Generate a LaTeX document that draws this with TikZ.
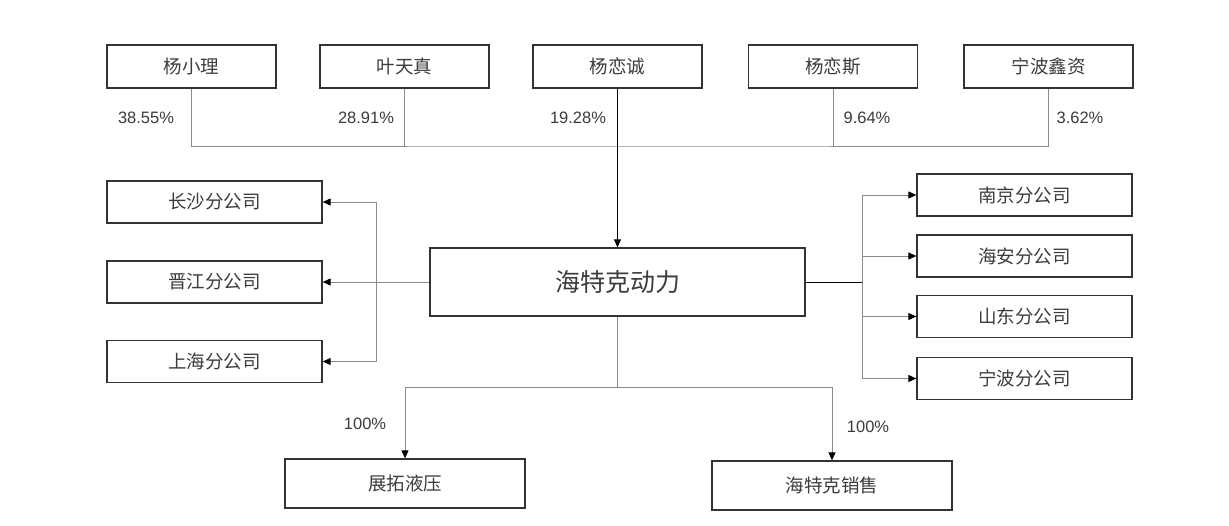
\documentclass[tikz,border=0pt]{standalone}
\usepackage{fontspec}
\setmainfont{Liberation Sans}
\newfontfamily\cjk{Noto Sans CJK SC}
\usetikzlibrary{arrows.meta}
\definecolor{boxc}{HTML}{333333}
\definecolor{txtc}{HTML}{3C3C3C}
\definecolor{linec}{HTML}{8A8A8A}
\begin{document}
\begin{tikzpicture}[x=1pt,y=-1pt,
  box/.style={draw=boxc, line width=1.3pt, fill=white, inner sep=0pt, text=txtc, font=\cjk\fontsize{18.5}{18.5}\selectfont},
  topbox/.style={box, minimum width=169pt, minimum height=43pt},
  subbox/.style={box, minimum width=215pt, minimum height=42pt},
  botbox/.style={box, minimum width=240pt, minimum height=49pt},
  pct/.style={inner sep=0pt, text=txtc, font=\fontsize{16.5}{16.5}\selectfont},
  conn/.style={draw=linec, line width=0.9pt},
  arr/.style={conn, -{Triangle[length=8pt,width=7pt,color=black]}}]
\useasboundingbox (0,0) rectangle (1229,525);
\fill[white] (0,0) rectangle (1229,525);
% shareholders
\node[topbox] (s1) at (191.5,66.5) {杨小理};
\node[topbox] (s2) at (404.5,66.5) {叶天真};
\node[topbox] (s3) at (617.5,66.5) {杨恋诚};
\node[topbox] (s4) at (833,66.5) {杨恋斯};
\node[topbox] (s5) at (1048.5,66.5) {宁波鑫资};
% centre
\node[box, minimum width=375pt, minimum height=68pt, font=\cjk\fontsize{25}{25}\selectfont] (c) at (617.5,282) {海特克动力};
% left branches
\node[subbox] (l1) at (214.5,202) {长沙分公司};
\node[subbox] (l2) at (214.5,282) {晋江分公司};
\node[subbox] (l3) at (214.5,361.5) {上海分公司};
% right branches
\node[subbox] (r1) at (1024.5,195) {南京分公司};
\node[subbox] (r2) at (1024.5,256) {海安分公司};
\node[subbox] (r3) at (1024.5,316.5) {山东分公司};
\node[subbox] (r4) at (1024.5,378.5) {宁波分公司};
% subsidiaries
\node[botbox] (b1) at (405,483.5) {展拓液压};
\node[botbox] (b2) at (832,485.5) {海特克销售};
% percentages
\node[pct] (p1) at (146,118) {38.55\%};
\node[pct] (p2) at (366,118) {28.91\%};
\node[pct] (p3) at (578,118) {19.28\%};
\node[pct] (p4) at (867,118) {9.64\%};
\node[pct] (p5) at (1080,118) {3.62\%};
\node[pct] (p6) at (365,424) {100\%};
\node[pct] (p7) at (868,427) {100\%};
% junctions
\coordinate (jt) at (617.5,146);
\coordinate (jl) at (376,282);
\coordinate (jr) at (862,282);
\coordinate (jb) at (617.5,387);
% top connectors
\draw[conn] (s1.south) |- (jt) -| (s5.south);
\draw[conn] (s2.south) -- (s2.south |- jt);
\draw[conn] (s4.south) -- (s4.south |- jt);
\draw[conn, draw=black] (s3.south) -- (jt);
\draw[arr, draw=black] (jt) -- (c.north);
% left
\draw[arr] (c.west) -- (l2.east);
\draw[arr] (jl) |- (l1.east);
\draw[arr] (jl) |- (l3.east);
% right
\draw[conn, draw=black] (c.east) -- (jr);
\draw[arr] (jr) |- (r1.west);
\draw[arr] (jr) |- (r2.west);
\draw[arr] (jr) |- (r3.west);
\draw[arr] (jr) |- (r4.west);
% bottom
\draw[conn] (c.south) -- (jb);
\draw[arr] (jb) -| (b1.north);
\draw[arr] (jb) -| (b2.north);
\end{tikzpicture}
\end{document}
